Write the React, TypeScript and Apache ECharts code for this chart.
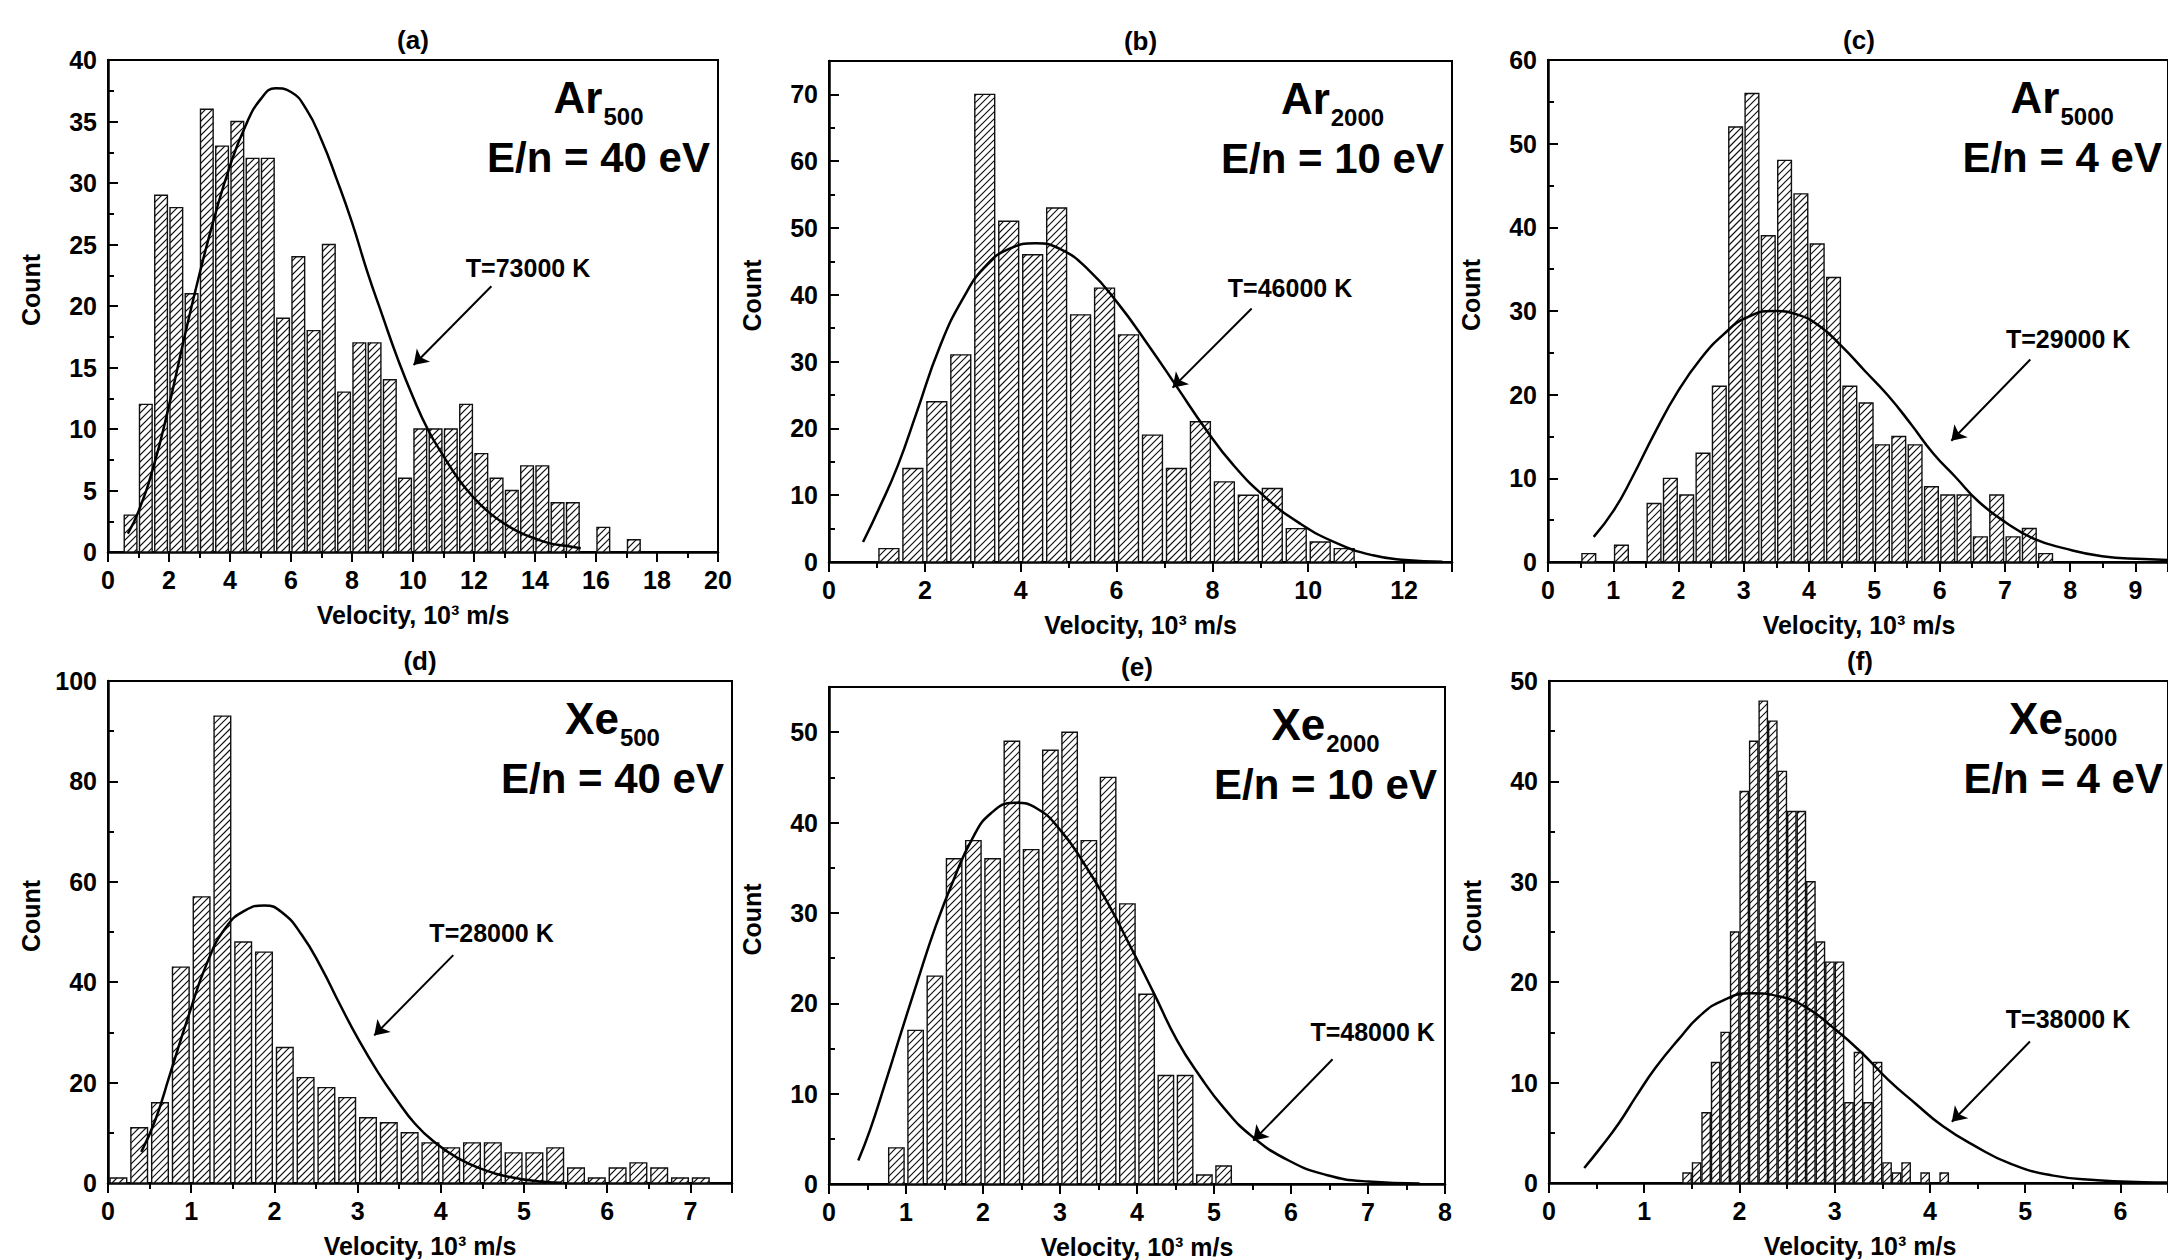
import React, { useEffect, useRef } from 'react';
import * as echarts from 'echarts';

// ---------------- DATA ----------------
// (a) Ar500, E/n = 40 eV
const binStartA = 0.74;
const binWidthA = 0.5;
const countsA = [3, 12, 29, 28, 21, 36, 33, 35, 32, 32, 19, 24, 18, 25, 13, 17, 17, 14, 6, 10, 10, 10, 12, 8, 6, 5, 7, 7, 4, 4, 0, 2, 0, 1];
const curveA = [[0.65, 1.5], [1.0, 3.3], [1.5, 7.0], [2.0, 11.9], [2.5, 17.4], [3.0, 22.6], [3.5, 27.3], [4.0, 31.4], [4.5, 34.6], [5.0, 36.8], [5.5, 37.7], [6.0, 37.4], [6.5, 36.0], [7.0, 33.5], [7.5, 30.3], [8.0, 26.8], [8.5, 22.8], [9.0, 19.2], [9.5, 15.7], [10.0, 12.6], [10.5, 9.9], [11.0, 7.8], [11.5, 5.9], [12.0, 4.4], [12.5, 3.2], [13.0, 2.3], [13.5, 1.6], [14.0, 1.1], [14.5, 0.7], [15.0, 0.5], [15.5, 0.3]];
const labelA = [13.77, 23.1];
const arrowA = [[12.57, 21.6], [10.02, 15.2]];

// (b) Ar2000, E/n = 10 eV
const binStartB = 1.25;
const binWidthB = 0.5;
const countsB = [2, 14, 24, 31, 70, 51, 46, 53, 37, 41, 34, 19, 14, 21, 12, 10, 11, 5, 3, 2];
const curveB = [[0.71, 3.0], [1.05, 8.1], [1.44, 14.5], [1.83, 22.4], [2.31, 32.2], [2.8, 39.5], [3.28, 44.4], [3.77, 46.9], [4.31, 47.7], [4.84, 46.8], [5.42, 43.7], [6.01, 38.9], [6.69, 32.2], [7.27, 26.1], [7.85, 20.0], [8.44, 14.5], [9.12, 9.6], [9.8, 5.9], [10.57, 2.9], [11.35, 1.0], [12.03, 0.3], [12.8, 0.05]];
const labelB = [9.62, 41.0];
const arrowB = [[8.82, 37.96], [7.17, 26.1]];

// (c) Ar5000, E/n = 4 eV
const binStartC = 0.625;
const binWidthC = 0.25;
const countsC = [1, 0, 2, 0, 7, 10, 8, 13, 21, 52, 56, 39, 48, 44, 38, 34, 21, 19, 14, 15, 14, 9, 8, 8, 3, 8, 3, 4, 1];
const curveC = [[0.7, 3.0], [1.01, 6.2], [1.29, 10.1], [1.64, 15.5], [1.99, 20.4], [2.34, 24.3], [2.69, 27.2], [3.04, 29.2], [3.46, 30.0], [3.81, 29.6], [4.16, 28.2], [4.51, 25.7], [4.86, 22.8], [5.21, 19.9], [5.56, 16.5], [5.9, 13.0], [6.25, 10.1], [6.6, 7.2], [7.02, 4.7], [7.44, 2.8], [7.93, 1.6], [8.49, 0.7], [9.12, 0.35], [9.5, 0.25]];
const labelC = [7.97, 26.7];
const arrowC = [[7.39, 24.2], [6.18, 14.5]];

// (d) Xe500, E/n = 40 eV
const binStartD = 0.125;
const binWidthD = 0.25;
const countsD = [1, 11, 16, 43, 57, 93, 48, 46, 27, 21, 19, 17, 13, 12, 10, 8, 7, 8, 8, 6, 6, 7, 3, 1, 3, 4, 3, 1, 1];
const curveD = [[0.4, 6.2], [0.57, 12.6], [0.74, 21.4], [0.97, 33.4], [1.19, 43.8], [1.42, 51.0], [1.65, 54.3], [1.88, 55.3], [2.1, 53.8], [2.33, 49.4], [2.56, 43.0], [2.78, 35.8], [3.01, 28.6], [3.24, 22.2], [3.47, 16.6], [3.69, 11.8], [3.92, 8.2], [4.2, 5.0], [4.49, 2.8], [4.83, 1.2], [5.23, 0.24], [5.45, 0.05]];
const labelD = [4.61, 49.8];
const arrowD = [[4.15, 45.4], [3.2, 29.4]];

// (e) Xe2000, E/n = 10 eV
const binStartE = 0.875;
const binWidthE = 0.25;
const countsE = [4, 17, 23, 36, 38, 36, 49, 37, 48, 50, 38, 45, 31, 21, 12, 12, 1, 2];
const curveE = [[0.38, 2.6], [0.53, 5.9], [0.71, 10.6], [0.89, 15.5], [1.14, 22.2], [1.38, 28.4], [1.62, 33.7], [1.86, 38.2], [2.1, 41.0], [2.41, 42.2], [2.71, 41.5], [3.01, 39.1], [3.31, 35.5], [3.62, 31.1], [3.92, 26.2], [4.22, 21.1], [4.52, 15.9], [4.82, 11.9], [5.13, 8.4], [5.49, 5.3], [5.97, 2.6], [6.46, 1.0], [7.0, 0.27], [7.67, 0.05]];
const labelE = [7.06, 16.8];
const arrowE = [[6.54, 13.8], [5.51, 4.8]];

// (f) Xe5000, E/n = 4 eV
const binStartF = 1.45;
const binWidthF = 0.1;
const countsF = [1, 2, 7, 12, 15, 25, 39, 44, 48, 46, 41, 37, 37, 30, 24, 22, 22, 8, 13, 8, 12, 2, 1, 2, 0, 1, 0, 1];
const curveF = [[0.37, 1.5], [0.54, 3.5], [0.73, 5.9], [0.92, 8.7], [1.12, 11.5], [1.36, 14.3], [1.59, 16.7], [1.83, 18.2], [2.12, 18.9], [2.41, 18.6], [2.7, 17.5], [2.98, 15.5], [3.27, 13.1], [3.56, 10.3], [3.85, 7.9], [4.13, 5.7], [4.47, 3.7], [4.85, 1.9], [5.28, 0.76], [5.76, 0.28], [6.24, 0.08], [6.5, 0.04]];
const labelF = [5.45, 16.3];
const arrowF = [[5.05, 14.1], [4.23, 6.1]];

// ---------------- LAYOUT / STYLE ----------------
const FAMILY = '"Liberation Sans", Arial, Helvetica, sans-serif';
const HATCH = 7;
const TICK_FONT = 25;

const panels = [
  { title: '(a)', gas: 'Ar', sub: '500', en: 'E/n = 40 eV', t: 'T=73000 K', grid: { left: 108, top: 60, width: 610, height: 492 }, xMax: 20, xInt: 2, yMax: 40, yInt: 5, binStart: binStartA, binWidth: binWidthA, counts: countsA, curve: curveA, label: labelA, arrow: arrowA, barFrac: 0.83 },
  { title: '(b)', gas: 'Ar', sub: '2000', en: 'E/n = 10 eV', t: 'T=46000 K', grid: { left: 829, top: 61, width: 623, height: 501 }, xMax: 13, xInt: 2, yMax: 75, yInt: 10, binStart: binStartB, binWidth: binWidthB, counts: countsB, curve: curveB, label: labelB, arrow: arrowB, barFrac: 0.83 },
  { title: '(c)', gas: 'Ar', sub: '5000', en: 'E/n = 4 eV', t: 'T=29000 K', grid: { left: 1548, top: 60, width: 622, height: 502 }, xMax: 9.5, xInt: 1, yMax: 60, yInt: 10, binStart: binStartC, binWidth: binWidthC, counts: countsC, curve: curveC, label: labelC, arrow: arrowC, barFrac: 0.84 },
  { title: '(d)', gas: 'Xe', sub: '500', en: 'E/n = 40 eV', t: 'T=28000 K', grid: { left: 108, top: 681, width: 624, height: 502 }, xMax: 7.5, xInt: 1, yMax: 100, yInt: 20, binStart: binStartD, binWidth: binWidthD, counts: countsD, curve: curveD, label: labelD, arrow: arrowD, barFrac: 0.8 },
  { title: '(e)', gas: 'Xe', sub: '2000', en: 'E/n = 10 eV', t: 'T=48000 K', grid: { left: 829, top: 687, width: 616, height: 497 }, xMax: 8, xInt: 1, yMax: 55, yInt: 10, binStart: binStartE, binWidth: binWidthE, counts: countsE, curve: curveE, label: labelE, arrow: arrowE, barFrac: 0.8 },
  { title: '(f)', gas: 'Xe', sub: '5000', en: 'E/n = 4 eV', t: 'T=38000 K', grid: { left: 1549, top: 681, width: 622, height: 502 }, xMax: 6.5, xInt: 1, yMax: 50, yInt: 10, binStart: binStartF, binWidth: binWidthF, counts: countsF, curve: curveF, label: labelF, arrow: arrowF, barFrac: 0.87 },
];

function makeRenderItem(binWidth: number, frac: number) {
  return (params: any, api: any) => {
    const c = api.value(0);
    const v = api.value(1);
    const pL = api.coord([c - binWidth / 2, 0]);
    const pR = api.coord([c + binWidth / 2, v]);
    const full = pR[0] - pL[0];
    const inset = (full * (1 - frac)) / 2;
    const x0 = pL[0] + inset;
    const x1 = pR[0] - inset;
    const yT = pR[1];
    const yB = pL[1];
    let d = '';
    const kStart = Math.ceil((x0 + yT) / HATCH) * HATCH;
    for (let k = kStart; k < x1 + yB; k += HATCH) {
      const xa = Math.max(x0, k - yB);
      const xb = Math.min(x1, k - yT);
      if (xb - xa > 0.4) {
        d += 'M' + xa.toFixed(2) + ' ' + (k - xa).toFixed(2) + 'L' + xb.toFixed(2) + ' ' + (k - xb).toFixed(2);
      }
    }
    const children: any[] = [
      { type: 'rect', shape: { x: x0, y: yT, width: x1 - x0, height: yB - yT }, style: { fill: '#ffffff', stroke: 'none' } },
    ];
    if (d) children.push({ type: 'path', shape: { pathData: d }, style: { fill: 'none', stroke: '#111', lineWidth: 1.15 } });
    children.push({ type: 'rect', shape: { x: x0, y: yT, width: x1 - x0, height: yB - yT }, style: { fill: 'none', stroke: '#111', lineWidth: 1.4 } });
    return { type: 'group', children };
  };
}

let measureCtx: CanvasRenderingContext2D | null = null;
function textWidth(text: string, font: string) {
  if (!measureCtx) measureCtx = document.createElement('canvas').getContext('2d');
  if (!measureCtx) return text.length * 20;
  measureCtx.font = font;
  return measureCtx.measureText(text).width;
}

function txt(x: number, y: number, text: string, size: number, align: string, extra: any = {}) {
  return {
    type: 'text',
    x,
    y,
    silent: true,
    ...extra,
    style: {
      text,
      fill: '#000',
      fontSize: size,
      fontWeight: 'bold',
      fontFamily: FAMILY,
      textAlign: align,
      align,
      textVerticalAlign: 'middle',
      verticalAlign: 'middle',
    },
  };
}

function buildOption() {
  const grids: any[] = [];
  const xAxes: any[] = [];
  const yAxes: any[] = [];
  const series: any[] = [];
  const elements: any[] = [];

  panels.forEach((p, i) => {
    grids.push({ ...p.grid, show: true, borderColor: '#000', borderWidth: 2, backgroundColor: 'transparent', containLabel: false });
    const labelStyle = { color: '#000', fontFamily: FAMILY, fontWeight: 'bold', fontSize: TICK_FONT };
    xAxes.push({
      type: 'value', gridIndex: i, min: 0, max: p.xMax, interval: p.xInt,
      axisLine: { show: true, onZero: false, lineStyle: { color: '#000', width: 2.5 } },
      axisTick: { show: true, inside: false, length: 10, lineStyle: { color: '#000', width: 2 } },
      minorTick: { show: true, splitNumber: 2, length: 6, lineStyle: { color: '#000', width: 2 } },
      splitLine: { show: false },
      minorSplitLine: { show: false },
      axisLabel: { ...labelStyle, margin: 15, showMaxLabel: p.xMax % p.xInt === 0 },
    });
    yAxes.push({
      type: 'value', gridIndex: i, min: 0, max: p.yMax, interval: p.yInt,
      axisLine: { show: true, onZero: false, lineStyle: { color: '#000', width: 2.5 } },
      axisTick: { show: true, inside: true, length: 10, lineStyle: { color: '#000', width: 2 } },
      minorTick: { show: true, splitNumber: 2, length: 6, lineStyle: { color: '#000', width: 2 } },
      splitLine: { show: false },
      minorSplitLine: { show: false },
      axisLabel: { ...labelStyle, margin: 11, showMaxLabel: p.yMax % p.yInt === 0 },
    });

    const barData = p.counts
      .map((cnt, k) => [p.binStart + k * p.binWidth, cnt])
      .filter((d) => d[1] > 0);
    series.push({
      type: 'custom', xAxisIndex: i, yAxisIndex: i, data: barData, clip: false, silent: true, z: 2,
      renderItem: makeRenderItem(p.binWidth, p.barFrac),
    });
    series.push({
      type: 'line', xAxisIndex: i, yAxisIndex: i, data: p.curve, smooth: true, symbol: 'none', showSymbol: false,
      lineStyle: { color: '#000', width: 2.5 }, silent: true, z: 5,
      markLine: {
        silent: true, symbol: ['none', 'arrow'], symbolSize: 14,
        lineStyle: { color: '#000', width: 2, type: 'solid' },
        label: { show: false },
        emphasis: { disabled: true },
        data: [[{ coord: p.arrow[0] }, { coord: p.arrow[1] }]],
      },
      markPoint: {
        silent: true, symbol: 'circle', symbolSize: 0,
        itemStyle: { color: 'transparent' },
        label: { show: true, position: 'inside', formatter: p.t, color: '#000', fontFamily: FAMILY, fontWeight: 'bold', fontSize: 25 },
        data: [{ coord: p.label }],
      },
    });

    const g = p.grid;
    const cx = g.left + g.width / 2;
    const gr = g.left + g.width;
    // panel title
    elements.push(txt(cx, g.top - 20, p.title, 26, 'center'));
    // axis names
    elements.push(txt(cx, g.top + g.height + 63, 'Velocity, 10³ m/s', 25, 'center'));
    elements.push(txt(g.left - 77, g.top + g.height / 2 - 16, 'Count', 25, 'center', { rotation: Math.PI / 2 }));
    // big labels
    const bigFont = 'bold 42px ' + FAMILY;
    const gasFont = 'bold 44px ' + FAMILY;
    const subFont = 'bold 24px ' + FAMILY;
    const enRight = gr - 8;
    const enW = textWidth(p.en, bigFont);
    const enCenter = enRight - enW / 2;
    const gasW = textWidth(p.gas, gasFont);
    const subW = textWidth(p.sub, subFont);
    const groupLeft = enCenter - (gasW + subW + 1) / 2;
    elements.push(txt(groupLeft, g.top + 37, p.gas, 44, 'left'));
    elements.push(txt(groupLeft + gasW + 1, g.top + 56, p.sub, 24, 'left'));
    elements.push(txt(enRight, g.top + 97, p.en, 42, 'right'));
  });

  return {
    animation: false,
    backgroundColor: '#ffffff',
    grid: grids,
    xAxis: xAxes,
    yAxis: yAxes,
    series,
    graphic: { elements },
  };
}

export default function App() {
  const ref = useRef<HTMLDivElement>(null);
  useEffect(() => {
    document.body.style.margin = '0';
    document.body.style.overflow = 'hidden';
    document.body.style.background = '#ffffff';
    if (!ref.current) return;
    const chart = echarts.init(ref.current, undefined, { renderer: 'svg', width: 2168, height: 1260 });
    chart.setOption(buildOption() as any);
    return () => {
      chart.dispose();
    };
  }, []);
  return <div ref={ref} style={{ width: 2168, height: 1260, background: '#ffffff' }} />;
}
